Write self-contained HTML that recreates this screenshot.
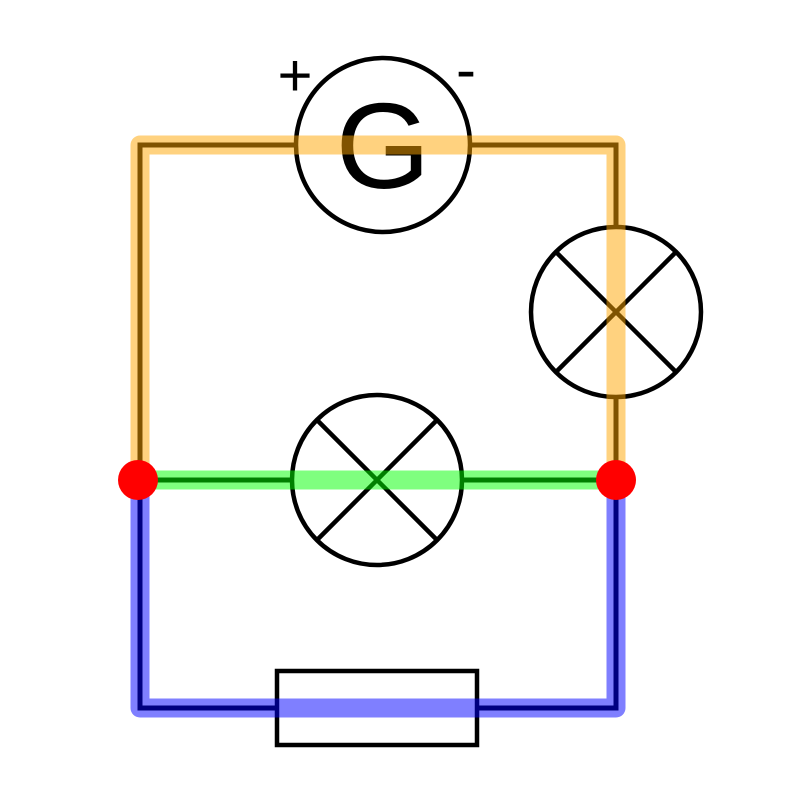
<!DOCTYPE html>
<html><head><meta charset="utf-8"><style>html,body{margin:0;padding:0;background:#fff}</style></head>
<body>
<svg width="800" height="800" viewBox="0 0 800 800" xmlns="http://www.w3.org/2000/svg">
<g fill="none" stroke="#000" stroke-width="5">
<path d="M296,145 H140 V480 M470,145 H616 V226 M616,398 V480"/>
<path d="M140,480 V708 H277 M477,708 H616 V480"/>
<path d="M140,480 H292 M462,480 H616"/>
</g>
<g fill="#fff" stroke="#000" stroke-width="4.5">
<circle cx="383" cy="145" r="87"/>
<circle cx="616" cy="312" r="85"/>
<circle cx="377" cy="480" r="85"/>
<rect x="277" y="671" width="200" height="74"/>
</g>
<g stroke="#000" stroke-width="4.5">
<line x1="556" y1="252" x2="676" y2="372"/><line x1="676" y1="252" x2="556" y2="372"/>
<line x1="317" y1="420" x2="437" y2="540"/><line x1="437" y1="420" x2="317" y2="540"/>
</g>
<text x="383" y="188" font-family="Liberation Sans, sans-serif" font-size="122" text-anchor="middle">G</text>
<text x="295" y="96" font-family="Liberation Sans, sans-serif" font-size="60" text-anchor="middle">+</text>
<text x="466" y="90" font-family="Liberation Sans, sans-serif" font-size="60" text-anchor="middle">-</text>
<g fill="none" stroke-width="19" stroke-linejoin="round" stroke-opacity="0.5">
<path d="M140,480 V145 H616 V480" stroke="#ffa500"/>
<path d="M140,480 H616" stroke="#00ff00"/>
<path d="M140,480 V708 H616 V480" stroke="#0000ff"/>
</g>
<g fill="none" stroke-width="5">
<path d="M140,480 H292 M462,480 H616" stroke="#007f00" stroke-opacity="0.6"/>
<path d="M140,480 V708 H277 M477,708 H616 V480" stroke="#000080" stroke-opacity="0.6"/>
</g>
<circle cx="138" cy="480" r="20" fill="#f00"/>
<circle cx="616" cy="480" r="20" fill="#f00"/>
</svg>
</body></html>
